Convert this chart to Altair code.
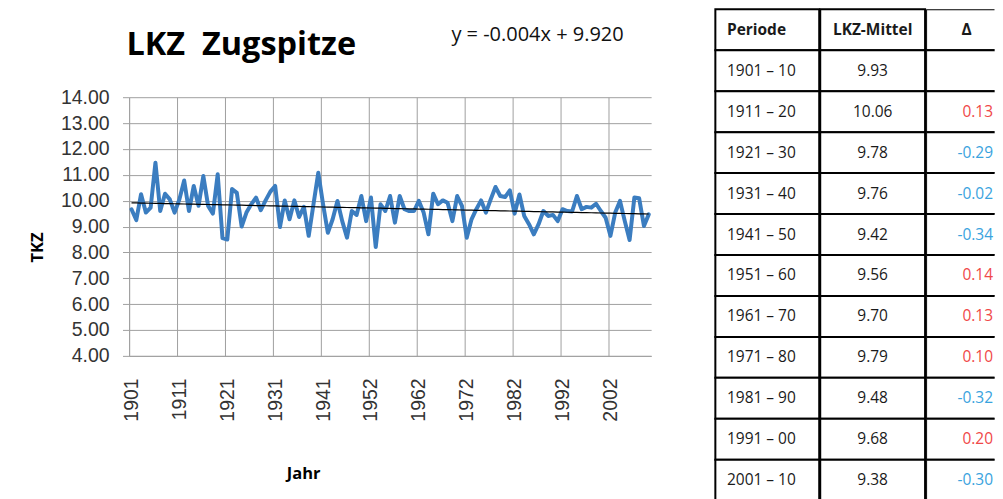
import json
import altair as alt
import pandas as pd

# ---------------- data ----------------
YEARS = list(range(1901, 1945)) + list(range(1946, 2011))
TKZ = [9.67, 9.25, 10.25, 9.54, 9.73, 11.47, 9.60, 10.27, 10.05, 9.54,
       10.05, 10.78, 9.60, 10.57, 9.80, 10.95, 9.80, 9.50, 11.02, 8.55,
       8.50, 10.45, 10.30, 9.00, 9.54, 9.86, 10.12, 9.63, 10.01, 10.35,
       10.57, 8.98, 10.01, 9.28, 10.01, 9.37, 9.76, 8.64, 9.86, 11.08,
       9.86, 8.76, 9.28, 9.99, 9.21, 8.57, 9.60, 9.45, 10.18,
       9.21, 10.12, 8.21, 9.86, 9.60, 10.18, 9.15, 10.18, 9.67, 9.60,
       9.60, 9.99, 9.54, 8.70, 10.27, 9.86, 10.01, 9.92, 9.21, 10.18,
       9.80, 8.57, 9.28, 9.67, 10.01, 9.54, 10.05, 10.53, 10.18, 10.14,
       10.40, 9.50, 10.24, 9.41, 9.09, 8.70, 9.09, 9.60, 9.41, 9.45,
       9.21, 9.67, 9.60, 9.58, 10.18, 9.67, 9.76, 9.73, 9.88, 9.60,
       9.34, 8.64, 9.54, 9.99, 9.21, 8.48, 10.12, 10.09, 9.02, 9.47]
SLOPE = -0.004
INTERCEPT = 9.920
Y_TICKS = [4, 5, 6, 7, 8, 9, 10, 11, 12, 13, 14]
LABEL_EVERY = 10

TITLE = "LKZ\u00a0\u00a0Zugspitze"
X_TITLE = "Jahr"
Y_TITLE = "TKZ"

HEADERS = ["Periode", "LKZ-Mittel", "Δ"]
PERIODS = ["1901 – 10", "1911 – 20", "1921 – 30", "1931 – 40", "1941 – 50",
           "1951 – 60", "1961 – 70", "1971 – 80", "1981 – 90", "1991 – 00",
           "2001 – 10"]
MEANS = [9.93, 10.06, 9.78, 9.76, 9.42, 9.56, 9.70, 9.79, 9.48, 9.68, 9.38]
DELTAS = [None, 0.13, -0.29, -0.02, -0.34, 0.14, 0.13, 0.10, -0.32, 0.20, -0.30]

# ---------------- styles ----------------
PLOT_W = 522.7
PLOT_H = 259
TOP_SPACE = 88
VIEW_H = PLOT_H + TOP_SPACE
GRID = "#a0a0a0"
LINE_COLOR = "#3b7dc0"
TICK_FONT = "Liberation Sans"
TEXT_FONT = "Open Sans"
RED = "#f04848"
BLUE = "#3aa3de"
INK = "#1a1a1a"
COL_W = [104, 105]
COL3_VIEW_W = 68.5      # visible part of the third column
COL3_FULL_W = 81.3      # full width of the third column (runs past the page edge)
TABLE_H = 492
TFS = 15.5

# ---------------- line chart ----------------
n = len(YEARS)
df = pd.DataFrame({"idx": list(range(n)), "Jahr": YEARS, "TKZ": TKZ})
tick_idx = list(range(0, n, LABEL_EVERY))
tick_labels = [str(YEARS[i]) for i in tick_idx]
boundaries = [i - 0.5 for i in tick_idx]
label_expr = f"{json.dumps(tick_labels)}[round((datum.value + 0.5) / {LABEL_EVERY})]"

x_scale = alt.Scale(domain=[-0.5, n - 0.5], nice=False, zero=False)
x_axis = alt.Axis(values=boundaries, labelExpr=label_expr, labelAngle=270,
                  labelFont=TICK_FONT, labelFontSize=19.5, labelColor="#333333",
                  labelPadding=22, labelOffset=2.4, labelOverlap=False, labelFlush=False,
                  ticks=False, tickSize=0, grid=False,
                  domainColor=GRID, domainWidth=1,
                  title=X_TITLE, titleFont=TEXT_FONT, titleFontSize=16.5,
                  titleFontWeight="bold", titleColor="black",
                  titleX=174.2, titleY=118, titleBaseline="middle", titleAlign="center")
x_grid_axis = alt.Axis(orient="top", values=boundaries, labels=False, ticks=False,
                       domain=True, domainColor="transparent", grid=True,
                       gridColor=GRID, gridWidth=1, title=None)
y_scale = alt.Scale(domain=[4, 14], range=[VIEW_H, TOP_SPACE], nice=False, zero=False)
y_axis = alt.Axis(values=Y_TICKS, format=".2f", labelFont=TICK_FONT, labelFontSize=19.5,
                  labelColor="#333333", labelPadding=13.4, ticks=True, tickSize=6.6,
                  tickColor=GRID, grid=True, gridColor=GRID, gridWidth=1,
                  domainColor=GRID, domainWidth=1, labelFlush=False, labelOverlap=False,
                  title=Y_TITLE, titleFont=TEXT_FONT, titleFontSize=16.5,
                  titleFontWeight="bold", titleColor="black", titleAngle=270,
                  titleX=-91.8, titleY=238, titleBaseline="middle", titleAlign="center")

base = alt.Chart(df)
line = base.mark_line(color=LINE_COLOR, strokeWidth=4, strokeJoin="round",
                      strokeCap="round").encode(
    x=alt.X("idx:Q", scale=x_scale, axis=x_axis),
    y=alt.Y("TKZ:Q", scale=y_scale, axis=y_axis),
)
trend = base.transform_calculate(
    trend=f"{INTERCEPT} + ({SLOPE}) * (datum.idx + 1)"
).mark_line(color="black", strokeWidth=1.2).encode(
    x=alt.X("idx:Q", scale=x_scale, axis=x_grid_axis),
    y=alt.Y("trend:Q", scale=y_scale, axis=y_axis),
)
title_txt = alt.Chart(pd.DataFrame({"t": [TITLE]})).mark_text(
    align="left", baseline="alphabetic", font=TEXT_FONT, fontSize=32.5,
    fontWeight="bold", color="black"
).encode(x=alt.value(-2.6), y=alt.value(46), text="t:N")
eq_txt = alt.Chart(pd.DataFrame({"t": [f"y = {SLOPE}x + {INTERCEPT:.3f}"]})).mark_text(
    align="left", baseline="alphabetic", font=TEXT_FONT, fontSize=20, color="#111111"
).encode(x=alt.value(322.7), y=alt.value(32), text="t:N")

line_chart = alt.layer(line, trend, title_txt, eq_txt).resolve_axis(
    x="independent"
).properties(width=PLOT_W, height=VIEW_H)

# ---------------- table ----------------
rows = [{"row": 0, "c1": HEADERS[0], "c2": HEADERS[1], "c3": HEADERS[2], "kind": "header"}]
for i, (p, m, d) in enumerate(zip(PERIODS, MEANS, DELTAS), start=1):
    rows.append({"row": i, "c1": p, "c2": f"{m:.2f}",
                 "c3": "" if d is None else f"{d:.2f}",
                 "kind": "none" if d is None else ("pos" if d > 0 else "neg")})
tdf = pd.DataFrame(rows)

ROW_Y = alt.Y("row:O", axis=None, scale=alt.Scale(paddingInner=0, paddingOuter=0))


def column(field, width, align, dx, head_align, head_dx, colored=False, full_w=None):
    b = alt.Chart(tdf).encode(y=ROW_Y)
    if full_w is None:
        cells = b.mark_rect(fill="white", stroke="black", strokeWidth=2)
    else:
        cells = b.mark_rect(fill="white", stroke="black", strokeWidth=2, clip=True).encode(
            x=alt.value(0), x2=alt.value(full_w))
    head = b.transform_filter("datum.row == 0").mark_text(
        align=head_align, dx=head_dx, font=TEXT_FONT, fontSize=TFS, fontWeight="bold",
        color=INK
    ).encode(text=f"{field}:N")
    if colored:
        color = alt.Color("kind:N", legend=None,
                          scale=alt.Scale(domain=["pos", "neg", "none"], range=[RED, BLUE, INK]))
    else:
        color = alt.value(INK)
    body = b.transform_filter("datum.row > 0").mark_text(
        align=align, dx=dx, font=TEXT_FONT, fontSize=TFS, fontWeight="normal"
    ).encode(text=f"{field}:N", color=color)
    return alt.layer(cells, head, body).properties(width=width, height=TABLE_H)


table = alt.hconcat(
    column("c1", COL_W[0], "left", 11.6 - COL_W[0] / 2, "left", 11.6 - COL_W[0] / 2),
    column("c2", COL_W[1], "center", 0, "center", 0),
    column("c3", COL3_VIEW_W, "right", COL3_VIEW_W / 2 - 1.5,
           "center", COL3_FULL_W / 2 - COL3_VIEW_W / 2, colored=True, full_w=COL3_FULL_W),
    spacing=-2,
)

chart = alt.hconcat(line_chart, table, spacing=63).properties(
    padding={"left": 21.25, "top": 0, "right": 0, "bottom": 0},
    background="white",
).configure_view(stroke="transparent", strokeWidth=0)

chart.save("out.html", embed_options={"renderer": "svg", "actions": False})
